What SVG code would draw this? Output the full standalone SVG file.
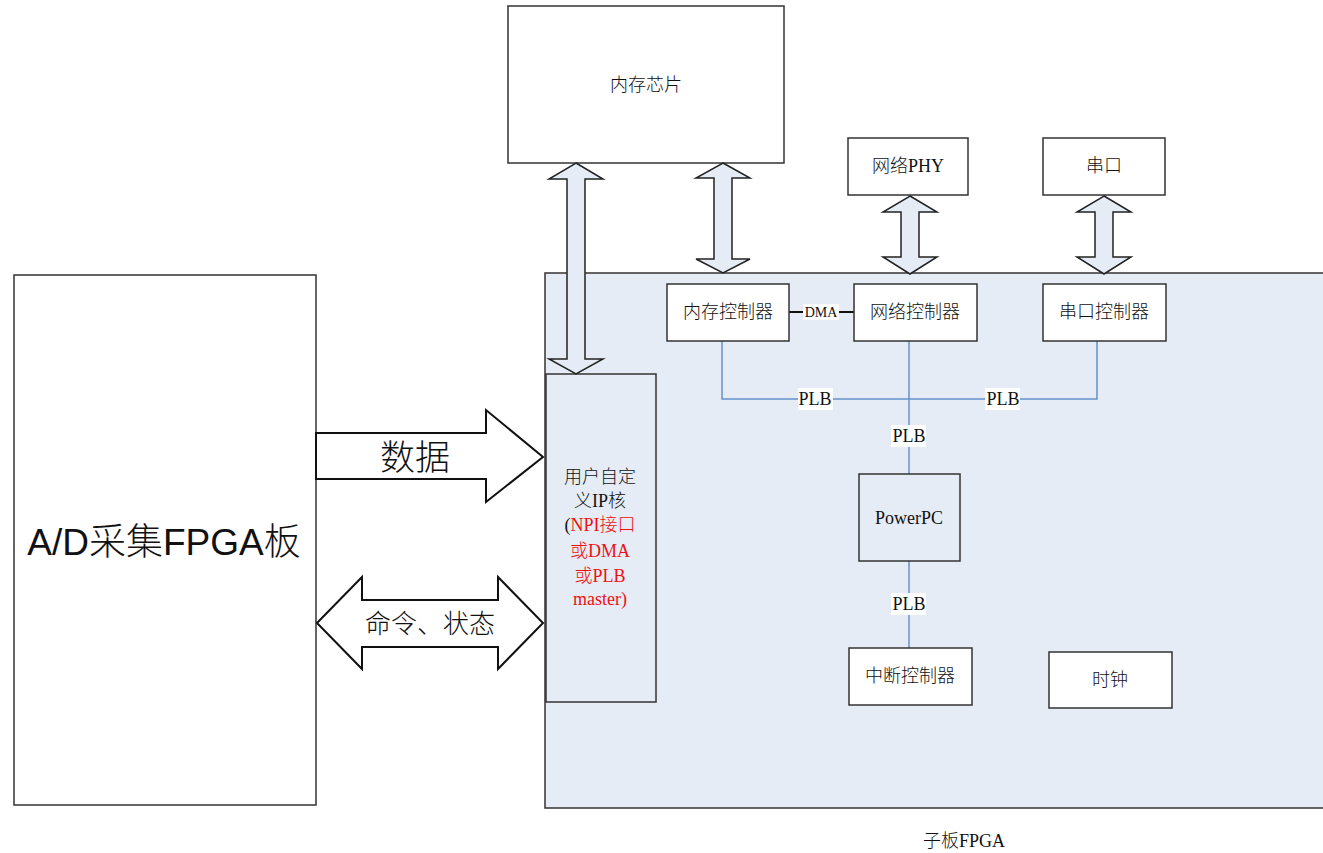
<svg xmlns="http://www.w3.org/2000/svg" width="1323" height="853" viewBox="0 0 1323 853">
<style>
.box{fill:#ffffff;stroke:#333333;stroke-width:1.5}
.blue{fill:#e6ecf6;stroke:#333333;stroke-width:1.5}
.arr{fill:#e6ecf6;stroke:#222222;stroke-width:1.5;stroke-linejoin:miter}
.warr{fill:#ffffff;stroke:#111111;stroke-width:2;stroke-linejoin:miter}
.bus{fill:none;stroke:#6690cc;stroke-width:1.5}
text{font-weight:300}
.t{font-family:"Liberation Serif","Noto Sans CJK SC",serif;font-size:18px;fill:#111111;text-anchor:middle}
.red{fill:#ee1111}
.lbl{fill:#ffffff;stroke:none}
</style>
<rect width="1323" height="853" fill="#ffffff"/>

<g id="ad-board">
<rect class="box" x="14" y="275" width="302" height="530"/>
<text x="164" y="555" style="font-family:'Liberation Sans','Noto Sans CJK SC',sans-serif;font-size:37px;fill:#111;text-anchor:middle">A/D采集FPGA板</text>
</g>

<g id="sub-fpga">
<rect class="blue" x="545" y="273" width="790" height="535"/>
<text class="t" x="964" y="847">子板FPGA</text>
</g>

<g id="ip-core">
<rect class="blue" x="546" y="374" width="110" height="328"/>
<text class="t" x="600" y="483">用户自定</text>
<text class="t" x="600" y="507">义IP核</text>
<text class="t" x="600" y="531">(<tspan class="red">NPI接口</tspan></text>
<text class="t red" x="600" y="557">或DMA</text>
<text class="t red" x="600" y="582">或PLB</text>
<text class="t red" x="600" y="605">master)</text>
</g>

<g id="mem-chip">
<rect class="box" x="508" y="6" width="276" height="157"/>
<text class="t" x="646" y="91">内存芯片</text>
</g>

<g id="phy">
<rect class="box" x="848" y="138" width="120" height="57"/>
<text class="t" x="908" y="172">网络PHY</text>
</g>

<g id="uart">
<rect class="box" x="1043" y="138" width="122" height="57"/>
<text class="t" x="1104" y="172">串口</text>
</g>

<g id="connectors">
<polygon class="arr" points="576,163 603,179 585,179 585,359 603,359 576,374 549,359 567,359 567,179 549,179"/>
<polygon class="arr" points="723,163 750,178 732,178 732,259 750,259 723,273 696,259 714,259 714,178 696,178"/>
<polygon class="arr" points="910,196 937,212 919,212 919,257 937,257 910,274 883,257 901,257 901,212 883,212"/>
<polygon class="arr" points="1104,196 1131,212 1113,212 1113,257 1131,257 1104,274 1077,257 1095,257 1095,212 1077,212"/>
<polygon class="warr" points="316,433 486,433 486,410 543,457 486,502 486,479 316,479"/>
<text x="415" y="470" style="font-family:'Noto Sans CJK SC',sans-serif;font-size:35px;fill:#111;text-anchor:middle">数据</text>
<polygon class="warr" points="317,623 362,577 362,600 498,600 498,577 543,623 498,669 498,647 362,647 362,669"/>
<text x="430" y="633" style="font-family:'Noto Sans CJK SC',sans-serif;font-size:26px;fill:#111;text-anchor:middle">命令、状态</text>

<line x1="789" y1="312" x2="854" y2="312" stroke="#111" stroke-width="2"/>
<rect class="lbl" x="803" y="304" width="36" height="16"/>
<text x="821" y="317" style="font-family:'Liberation Serif',serif;font-size:14px;fill:#111;text-anchor:middle">DMA</text>

<polyline class="bus" points="722,341 722,399 1097,399 1097,341"/>
<line class="bus" x1="909" y1="341" x2="909" y2="474"/>
<line class="bus" x1="909" y1="561" x2="909" y2="648"/>
<rect class="lbl" x="798" y="388" width="35" height="22"/>
<text class="t" x="815" y="405">PLB</text>
<rect class="lbl" x="985" y="388" width="35" height="22"/>
<text class="t" x="1003" y="405">PLB</text>
<rect class="lbl" x="891" y="425" width="35" height="22"/>
<text class="t" x="909" y="442">PLB</text>
<rect class="lbl" x="891" y="593" width="35" height="22"/>
<text class="t" x="909" y="610">PLB</text>
</g>

<g id="mem-ctrl">
<rect class="box" x="667" y="284" width="122" height="57"/>
<text class="t" x="728" y="318">内存控制器</text>
</g>

<g id="net-ctrl">
<rect class="box" x="854" y="284" width="123" height="57"/>
<text class="t" x="915" y="318">网络控制器</text>
</g>

<g id="uart-ctrl">
<rect class="box" x="1043" y="284" width="123" height="57"/>
<text class="t" x="1104" y="318">串口控制器</text>
</g>

<g id="powerpc">
<rect class="blue" x="859" y="474" width="101" height="87"/>
<text class="t" x="909" y="524">PowerPC</text>
</g>

<g id="int-ctrl">
<rect class="box" x="849" y="648" width="123" height="57"/>
<text class="t" x="910" y="682">中断控制器</text>
</g>

<g id="clock">
<rect class="box" x="1049" y="652" width="123" height="56"/>
<text class="t" x="1110" y="686">时钟</text>
</g>
</svg>
